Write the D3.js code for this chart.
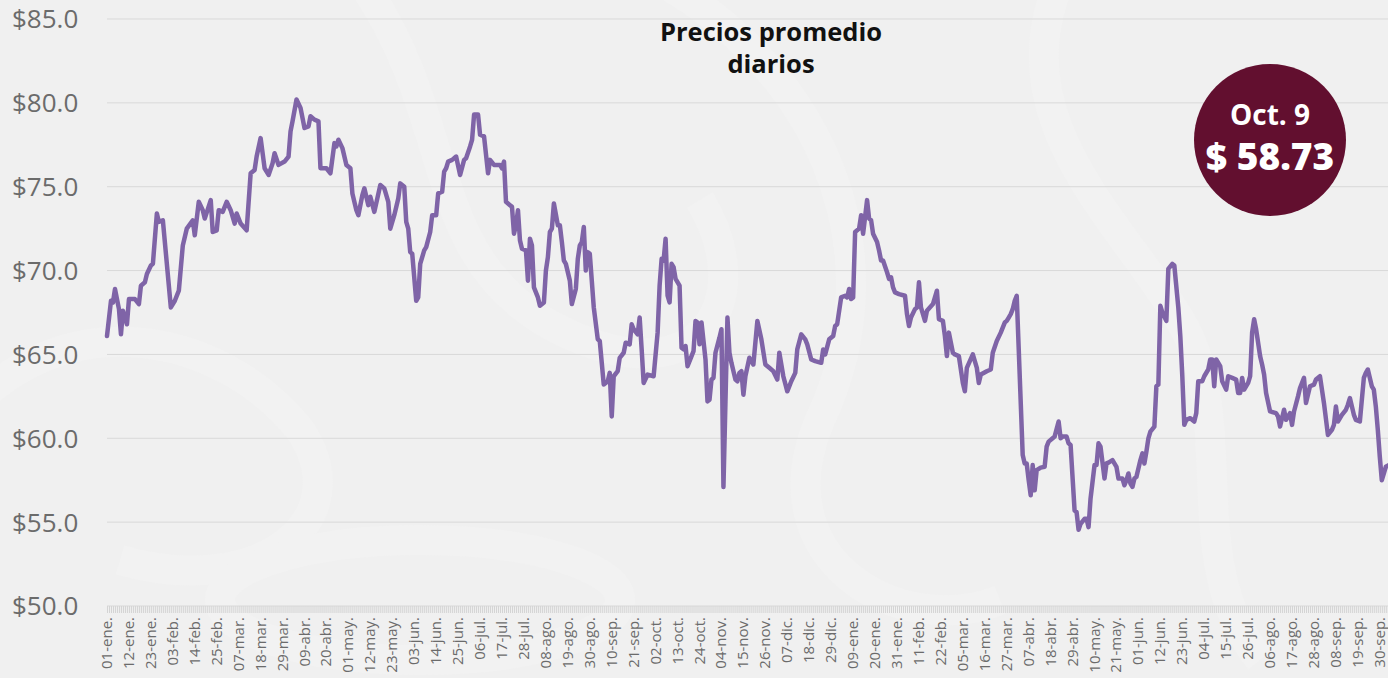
<!DOCTYPE html>
<html>
<head>
<meta charset="utf-8">
<script src="https://cdn.jsdelivr.net/npm/d3@7"></script>
<style>
  body { margin: 0; background: #f0f0f0; overflow: hidden; }
  svg { display: block; font-family: "Open Sans", sans-serif; }
</style>
</head>
<body>
<svg class="chart" width="1388" height="678"></svg>
<script>
var dias = [0,2,3,4,6,7,8,10,11,14,16,17,19,20,22,23,25,26,28,32,34,36,38,40,43,44,46,48,49,52,53,55,56,58,60,62,64,65,67,70,72,74,75,77,79,81,83,84,86,89,91,92,93,95,97,99,101,102,104,106,107,110,112,114,115,116,118,120,122,123,125,126,128,129,131,132,134,137,139,141,142,144,146,147,149,150,151,152,153,155,156,157,159,160,162,163,165,166,168,169,170,171,173,175,177,179,180,182,183,184,186,187,189,191,192,194,197,198,199,200,202,203,204,205,206,207,208,210,211,212,213,214,216,217,219,220,221,222,223,224,226,227,228,229,230,232,233,235,236,237,238,239,240,241,242,244,246,247,248,249,251,252,253,254,256,257,259,260,262,263,264,266,267,268,269,271,274,276,277,278,279,280,281,282,283,284,285,287,288,289,290,291,293,294,295,296,297,298,299,300,301,302,303,304,305,307,308,309,311,312,313,315,316,317,318,319,320,322,324,326,328,330,332,334,336,337,339,341,343,345,346,348,350,351,353,355,358,359,360,362,364,365,366,368,370,371,372,373,374,375,377,378,379,381,382,383,384,386,387,388,389,391,392,393,394,395,397,400,401,402,403,405,406,407,408,410,411,414,416,417,419,420,421,422,424,425,427,429,430,431,434,436,437,438,441,443,444,446,448,450,451,452,453,454,455,456,459,460,461,462,463,464,465,466,468,470,471,472,474,475,477,478,479,481,482,483,485,486,487,488,490,491,492,493,495,496,497,498,500,501,502,504,506,507,509,510,511,512,513,514,515,516,518,519,520,521,522,523,525,526,527,528,529,531,532,534,535,537,538,539,540,541,543,545,546,547,549,550,552,553,554,555,556,558,559,561,562,564,566,567,568,569,570,572,573,574,575,576,578,579,580,581,583,586,587,588,590,591,593,594,595,597,598,600,601,603,605,606,608,610,612,614,615,616,617,619,621,622,623,625,626,628,630,631,632,634,635,636,637,638,639,640,641,644,647];

var precios = [66.1,68.2,68.1,68.9,67.7,66.2,67.6,66.8,68.3,68.3,68.0,69.1,69.3,69.8,70.3,70.4,73.4,72.9,73.0,67.8,68.2,68.8,71.5,72.5,73.0,72.1,74.1,73.6,73.1,74.2,72.3,72.4,73.6,73.5,74.1,73.6,72.8,73.4,72.8,72.4,75.8,76.0,76.8,77.9,76.1,75.7,76.4,77.0,76.3,76.5,76.8,78.3,78.9,80.2,79.7,78.5,78.6,79.2,79.0,78.9,76.1,76.1,75.8,77.6,77.4,77.8,77.3,76.3,76.1,74.6,73.6,73.3,74.5,74.9,73.9,74.4,73.5,75.1,74.9,74.1,72.5,73.3,74.3,75.2,75.0,72.9,72.5,71.1,71.0,68.2,68.4,70.4,71.2,71.4,72.3,73.3,73.3,74.6,74.7,75.9,76.1,76.5,76.6,76.8,75.7,76.6,76.7,77.4,77.8,79.3,79.3,78.1,78.0,75.8,76.6,76.3,76.3,76.1,76.5,74.1,73.9,73.8,72.2,72.7,73.6,71.8,71.3,71.2,69.4,71.9,71.5,69.0,68.4,67.9,68.1,70.0,70.8,72.3,72.5,74.0,72.7,72.7,71.7,70.6,70.4,69.4,68.0,68.9,70.7,71.5,71.7,72.6,70.0,71.1,71.0,67.8,65.9,65.8,64.5,63.2,63.4,63.9,61.3,63.7,64.0,64.8,65.1,65.7,65.6,66.8,66.5,66.2,67.2,65.3,63.3,63.8,63.7,66.3,69.1,70.7,70.6,71.9,68.5,68.1,70.4,70.2,69.5,69.1,65.4,65.3,65.5,64.3,64.9,65.2,67.0,66.9,65.6,66.9,65.8,64.7,62.2,62.3,63.5,63.6,65.1,66.0,66.5,57.1,67.2,65.1,64.5,63.5,63.4,63.9,64.0,62.6,63.7,64.8,64.4,67.0,65.9,64.4,64.2,64.0,63.5,65.1,63.7,62.8,63.4,63.9,65.3,66.2,65.9,65.6,64.7,64.6,64.5,65.3,65.0,65.9,66.1,66.7,66.8,68.4,68.5,68.4,68.9,68.3,68.4,72.3,72.5,73.3,72.2,74.2,73.1,73.0,72.2,71.7,71.2,70.6,70.6,69.9,69.5,69.6,69.0,68.7,68.6,68.5,67.4,66.7,67.2,67.7,67.8,69.3,67.8,67.0,67.6,68.0,68.8,67.1,67.0,66.1,64.9,66.3,65.1,65.0,64.9,63.3,62.8,64.2,65.0,64.2,63.3,63.8,64.0,64.1,65.1,65.8,66.3,66.9,67.0,67.2,67.4,67.7,68.2,68.5,59.0,58.5,58.5,57.5,56.6,58.4,56.9,58.1,58.25,58.3,59.5,59.8,60.0,60.1,61.0,60.0,60.1,60.1,59.7,59.6,55.7,55.6,54.55,54.9,55.2,55.2,54.7,56.4,58.4,58.4,59.7,59.5,57.6,58.5,58.55,58.7,58.3,57.6,57.6,57.2,57.5,57.9,57.3,57.1,57.6,57.7,58.7,59.1,58.5,59.2,60.0,60.4,60.7,63.1,63.2,67.9,67.5,67.0,70.1,70.4,70.3,67.8,66.1,63.7,60.8,61.1,61.2,61.0,61.5,63.4,63.4,63.7,64.1,64.7,64.7,63.1,64.7,64.3,63.4,62.9,63.7,63.6,63.5,62.7,62.7,63.6,62.9,63.3,63.7,66.3,67.1,66.5,64.9,64.4,63.8,62.7,61.6,61.5,61.3,60.7,61.7,61.1,61.5,60.8,61.6,62.5,63.0,63.6,62.1,63.1,63.2,63.5,63.7,62.1,60.2,60.5,60.8,61.9,61.0,61.4,61.7,62.0,62.4,61.4,61.1,61.0,63.6,63.9,64.1,63.1,62.9,61.9,60.5,58.9,57.5,57.9,58.3,58.5,58.73];

var yTicks = [50, 55, 60, 65, 70, 75, 80, 85];
var meses = ["ene", "feb", "mar", "abr", "may", "jun", "jul", "ago", "sep", "oct", "nov", "dic"];
var titulo = ["Precios promedio", "diarios"];
var ultimaFecha = "Oct. 9";
var ultimoPrecio = "$ 58.73";

var inicio = new Date(2024, 0, 1);
var fin = d3.timeDay.offset(inicio, 647);

var data = dias.map((d, i) => ({ fecha: d3.timeDay.offset(inicio, d), valor: precios[i] }));

var svg = d3.select('.chart');

// marca de agua tenue del fondo
var fondo = svg.append('g').attr('fill', 'none').attr('stroke', '#f2f2f2').attr('stroke-width', 30);
fondo.append('path').attr('d', 'M-40,420 C60,300 220,330 300,430 C360,520 260,600 120,560');
fondo.append('path').attr('d', 'M360,-20 C460,120 420,260 560,330 C700,400 760,300 700,200');
fondo.append('path').attr('d', 'M640,-30 C820,60 900,250 820,420 C760,560 900,640 1000,600');
fondo.append('path').attr('d', 'M1060,-20 C1000,120 1120,220 1180,320 C1240,420 1180,560 1260,660');
fondo.append('ellipse').attr('cx', 420).attr('cy', 600).attr('rx', 200).attr('ry', 60);

var x = d3.scaleTime()
  .domain([inicio, fin])
  .range([107, 107 + 647 * 1.995]);

var y = d3.scaleLinear()
  .domain([50, 85])
  .range([606, 19]);

// rejilla
svg.append('g')
  .selectAll('line')
  .data(yTicks)
  .enter()
  .append('line')
  .attr('x1', 107)
  .attr('x2', 1388)
  .attr('y1', (d) => y(d))
  .attr('y2', (d) => y(d))
  .attr('stroke', '#d9d9d9')
  .attr('stroke-width', 1);

// etiquetas del eje y
svg.append('g')
  .selectAll('text')
  .data(yTicks)
  .enter()
  .append('text')
  .attr('x', 12)
  .attr('y', (d) => y(d))
  .attr('dy', '0.36em')
  .attr('fill', '#6b6b6b')
  .style('font-size', '26px')
  .text((d) => '$' + d.toFixed(1));

// marcas diarias del eje x
var todosLosDias = d3.timeDay.range(inicio, d3.timeDay.offset(fin, 1));

svg.append('g')
  .attr('transform', 'translate(0,606)')
  .call(d3.axisBottom(x).tickValues(todosLosDias).tickSize(7).tickFormat(''))
  .call((g) => g.select('.domain').remove())
  .call((g) => g.selectAll('line').attr('stroke', '#d4d4d4'));

var formato = (d) => d3.timeFormat('%d')(d) + '-' + meses[d.getMonth()] + '.';
var diasEtiqueta = todosLosDias.filter((d, i) => i % 11 === 0);

svg.append('g')
  .attr('transform', 'translate(0,613)')
  .call(d3.axisBottom(x).tickValues(diasEtiqueta).tickSize(0).tickFormat(formato))
  .call((g) => g.select('.domain').remove())
  .selectAll('text')
  .attr('transform', 'rotate(-90)')
  .attr('text-anchor', 'end')
  .attr('x', -4)
  .attr('y', 0)
  .attr('dy', '0.3em')
  .attr('fill', '#6b6b6b')
  .style('font-family', '"Open Sans", sans-serif')
  .style('font-size', '15px');

// línea de precios
var linea = d3.line()
  .x((d) => x(d.fecha))
  .y((d) => y(d.valor));

svg.append('path')
  .datum(data)
  .attr('d', linea)
  .attr('fill', 'none')
  .attr('stroke', '#7f64a7')
  .attr('stroke-width', 4.5)
  .attr('stroke-linejoin', 'round')
  .attr('stroke-linecap', 'round');

// título
svg.append('g')
  .selectAll('text')
  .data(titulo)
  .enter()
  .append('text')
  .attr('x', 771)
  .attr('y', (d, i) => 41 + i * 32)
  .attr('text-anchor', 'middle')
  .attr('fill', '#111')
  .style('font-size', '25.5px')
  .style('font-weight', 700)
  .text((d) => d);

// globo con el último precio
var globo = svg.append('g').attr('transform', 'translate(1270,140)');

globo.append('circle')
  .attr('r', 76)
  .attr('fill', '#620f2f');

globo.append('text')
  .attr('y', -15)
  .attr('text-anchor', 'middle')
  .attr('fill', '#fff')
  .style('font-size', '28px')
  .style('font-weight', 700)
  .text(ultimaFecha);

globo.append('text')
  .attr('y', 30)
  .attr('text-anchor', 'middle')
  .attr('fill', '#fff')
  .style('font-size', '37px')
  .style('font-weight', 800)
  .text(ultimoPrecio);
</script>
</body>
</html>
